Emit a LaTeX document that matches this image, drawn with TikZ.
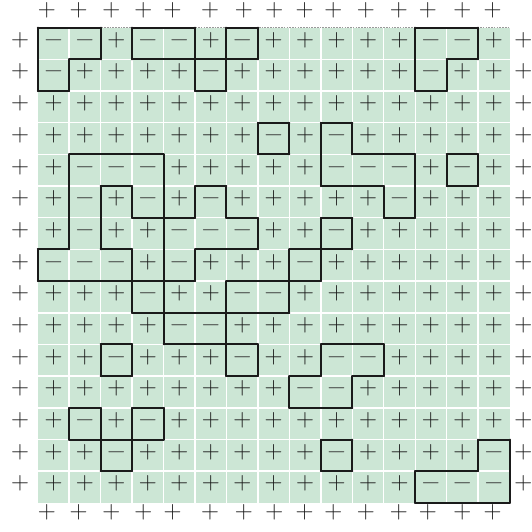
\documentclass[tikz,border=0pt]{standalone}
\usepackage{tikz}
\definecolor{isingfill}{HTML}{CCE6D5}
\definecolor{isingink}{HTML}{1A1A1A}
\definecolor{isingdown}{HTML}{2E2E2E}
\tikzset{
  spinup/.style={
    font=\fontsize{22.5}{22.5}\selectfont,
    text=isingink,
    inner sep=0pt,
    text height=0.583em,
    text depth=0.083em
  },
  spindown/.style={
    spinup,
    text=isingdown
  },
  gridline/.style={
    draw=white,
    line width=1.3pt
  },
  wall/.style={
    draw=isingink,
    line width=1.8pt,
    line cap=round
  },
  rim/.style={
    draw=gray!80,
    line width=0.8pt,
    dash pattern=on 1.5pt off 1pt
  }
}
\newcommand\spinat[2]{\ifcsname spin-#1-#2\endcsname 1\else 0\fi}

\begin{document}
\begin{tikzpicture}[x=1cm,y=1.007cm]
\useasboundingbox (-1.2,-15.92) rectangle (15.69,0.875);
\foreach \ry/\cx in {1/1,1/2,1/4,1/5,1/7,1/13,1/14,
  2/1,2/6,2/13,
  4/8,4/10,
  5/2,5/3,5/4,5/10,5/11,5/12,5/14,
  6/2,6/4,6/6,6/12,
  7/2,7/5,7/6,7/7,7/10,
  8/1,8/2,8/3,8/5,8/9,
  9/4,9/7,9/8,
  10/5,10/6,
  11/3,11/7,11/10,11/11,
  12/9,12/10,
  13/2,13/4,
  14/3,14/10,14/15,
  15/13,15/14,15/15} {
  \expandafter\xdef\csname spin-\ry-\cx\endcsname{1}
}
\fill[isingfill] (0,-15) rectangle (15,0);
\foreach \k in {1,...,14} {
  \draw[gridline] (\k,-15) -- (\k,0);
  \draw[gridline] (0,-\k) -- (15,-\k);
}
\draw[rim] (0,0) -- (15,0);
\foreach \ry in {1,...,15} {
  \foreach \cx in {1,...,15} {
    \ifnum\spinat{\ry}{\cx}=1
      \node[spindown] (c-\ry-\cx) at (\cx-0.5,0.5-\ry) {−};
    \else
      \node[spinup] (c-\ry-\cx) at (\cx-0.5,0.5-\ry) {+};
    \fi
  }
}
\foreach \ry in {1,...,15} {
  \foreach \cx in {1,...,15} {
    \ifnum\spinat{\ry}{\cx}=1
      \ifnum\spinat{\the\numexpr\ry-1\relax}{\cx}=0 \draw[wall] (\cx-1,1-\ry) -- (\cx,1-\ry); \fi
      \ifnum\spinat{\the\numexpr\ry+1\relax}{\cx}=0 \draw[wall] (\cx-1,-\ry) -- (\cx,-\ry); \fi
      \ifnum\spinat{\ry}{\the\numexpr\cx-1\relax}=0 \draw[wall] (\cx-1,-\ry) -- (\cx-1,1-\ry); \fi
      \ifnum\spinat{\ry}{\the\numexpr\cx+1\relax}=0 \draw[wall] (\cx,-\ry) -- (\cx,1-\ry); \fi
    \fi
  }
}
\foreach \x [count=\k] in {0.29,1.30,2.34,3.36,4.29,5.48,6.55,7.52,8.48,9.40,10.43,11.48,12.40,13.50,14.46} {
  \node[spinup] (top-\k) at (\x,0.44) {+};
  \node[spinup] (bot-\k) at (\x,-15.42) {+};
}
\foreach \k in {1,...,15} {
  \node[spinup] (left-\k) at (-0.56,0.5-\k) {+};
  \node[spinup] (right-\k) at (15.44,0.5-\k) {+};
}
\end{tikzpicture}
\end{document}
